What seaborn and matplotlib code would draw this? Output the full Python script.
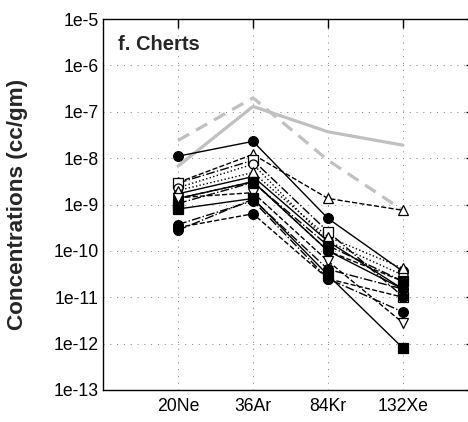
import numpy as np
import pandas as pd
import matplotlib
matplotlib.use("Agg")
import matplotlib.pyplot as plt
import seaborn as sns

# ---- data ----
isotopes = ["20Ne", "36Ar", "84Kr", "132Xe"]
ytick_labels = ["1e-13", "1e-12", "1e-11", "1e-10", "1e-9", "1e-8", "1e-7", "1e-6", "1e-5"]

gray_solid = [6.7e-9, 1.3e-7, 3.7e-8, 1.9e-8]
gray_dashed = [2.4e-8, 2.0e-7, 9.0e-9, 7.5e-10]

s01 = [1.1e-8, 2.3e-8, 5.0e-10, 3.6e-11]
s02 = [3.0e-9, 1.2e-8, 1.35e-9, 7.5e-10]
s03 = [2.9e-9, 9.0e-9, 2.6e-10, 1.03e-11]
s04 = [2.3e-9, 7.4e-9, 1.6e-10, 3.0e-11]
s05 = [1.7e-9, 4.0e-9, 1.6e-10, 1.5e-11]
s06 = [1.35e-9, 3.1e-9, 1.0e-10, 2.2e-11]
s07 = [2.0e-9, 4.9e-9, 2.0e-10, 4.2e-11]
s08 = [1.35e-9, 3.1e-9, 1.0e-10, 1.5e-11]
s09 = [1.05e-9, 3.0e-9, 1.3e-10, 2.2e-11]
s10 = [1.4e-9, 1.8e-9, 6.0e-11, 2.8e-12]
s11 = [8.0e-10, 1.35e-9, 3.0e-11, 8.0e-13]
s12 = [3.7e-10, 1.2e-9, 2.5e-11, 4.8e-12]
s13 = [3.2e-10, 6.3e-10, 2.5e-11, 1.0e-11]
s14 = [2.8e-10, 1.3e-9, 4.0e-11, 1.5e-11]

black_series = [s01, s02, s03, s04, s05, s06, s07, s08, s09, s10, s11, s12, s13, s14]
# (marker, filled, linestyle)
styles = [
    ("o", True, "-"),
    ("^", False, "--"),
    ("s", False, "-."),
    ("o", False, ":"),
    ("o", False, "-"),
    ("o", True, "--"),
    ("^", False, ":"),
    ("o", True, "-"),
    ("s", True, "-."),
    ("v", False, "--"),
    ("s", True, "-"),
    ("o", True, "-."),
    ("o", True, "--"),
    ("o", True, "-."),
]

sns.set_theme(style="white")
plt.rcParams["font.family"] = ["Liberation Sans", "DejaVu Sans"]

fig = plt.figure(figsize=(4.68, 4.22), dpi=100)
ax = fig.add_axes([103 / 468, 1 - 390 / 422, 375 / 468, 371 / 422])

pos = np.arange(len(isotopes))

sns.lineplot(x=pos, y=gray_solid, ax=ax, color="#c0c0c0", lw=2.3, linestyle="-")
sns.lineplot(x=pos, y=gray_dashed, ax=ax, color="#c0c0c0", lw=2.3, linestyle=(0, (4, 2.5)))

for vals, (m, filled, ls) in zip(black_series, styles):
    sns.lineplot(x=pos, y=vals, ax=ax, color="black", lw=1.0, linestyle=ls,
                 marker=m, markersize=7 if m == "o" and filled else 6.5,
                 markerfacecolor="black" if filled else "white",
                 markeredgecolor="black", markeredgewidth=0.9)

ax.set_yscale("log")
ax.set_ylim(1e-13, 1e-5)
ax.set_xlim(-1, 4)
ax.set_yticks([10.0 ** e for e in range(-13, -4)])
ax.set_yticklabels(ytick_labels)
ax.yaxis.set_minor_locator(matplotlib.ticker.NullLocator())
ax.set_xticks(pos)
ax.set_xticklabels(isotopes)

ax.grid(True, which="major", color="#808080", linestyle=(0, (1, 6)), lw=0.7)
ax.tick_params(axis="both", which="major", direction="in", width=1.0,
               top=True, right=True, labelsize=12.7, colors="black")
ax.tick_params(axis="y", length=8.5, pad=3)
ax.tick_params(axis="x", length=6.5, pad=6)
for sp in ax.spines.values():
    sp.set_color("black")
    sp.set_linewidth(1.0)

ax.set_ylabel("Concentrations (cc/gm)", fontsize=16.2, fontweight="bold")
ax.yaxis.set_label_coords(-0.2, 0.5)
ax.text(0.04, 0.93, "f. Cherts", transform=ax.transAxes, fontsize=14.5,
        fontweight="bold", va="center", ha="left")

fig.savefig("out.png", dpi=100)
